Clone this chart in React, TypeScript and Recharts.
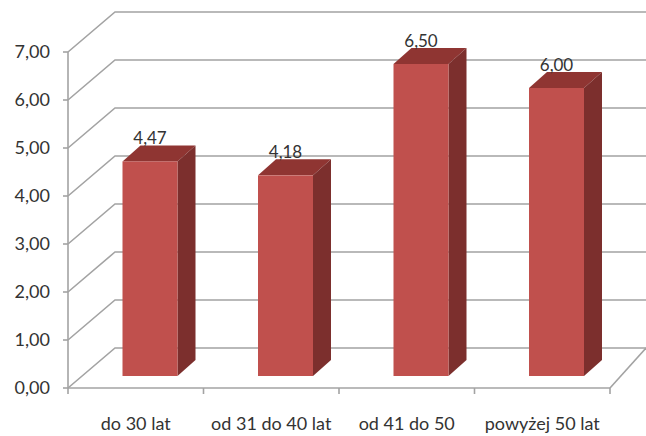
import { Bar, BarChart, CartesianGrid, XAxis, YAxis } from 'recharts'

const categories = ['do 30 lat', 'od 31 do 40 lat', 'od 41 do 50', 'powyżej 50 lat']
const values = [4.47, 4.18, 6.5, 6.0]
const yTicks = [0, 1, 2, 3, 4, 5, 6, 7]

const data = categories.map((name, i) => ({ name, value: values[i] }))

const W = 646
const H = 436
const MARGIN = { top: 52, right: 36, bottom: 18, left: 0 }
const Y_AXIS_W = 68
const X_AXIS_H = 30
const FONT = 'Lato, "Open Sans", sans-serif'
const GRID = '#a3a3a3'

// oblique depth of the walls and of the bar slab
const WALL_DX = 47
const WALL_DX_RIGHT = 36
const WALL_DY = -40
const BAR_SHIFT_X = 14.5
const BAR_SHIFT_Y = -12
const BAR_DX = 18
const BAR_DY = -16

const halfBand = (W - MARGIN.left - MARGIN.right - Y_AXIS_W) / categories.length / 2

const fmt = (v: number) => v.toFixed(2).replace('.', ',')

function GridLine(props: any) {
  const { x1, y1, x2, index } = props
  const bx1 = x1 + WALL_DX
  const bx2 = x2 + WALL_DX_RIGHT + 30
  const by = y1 + WALL_DY
  return (
    <g>
      <path
        d={`M${x1},${y1} L${bx1},${by} L${bx2},${by}`}
        fill="none"
        stroke={GRID}
        strokeWidth={1.6}
      />
      {index === 0 && (
        <line
          x1={x2}
          y1={y1}
          x2={x2 + WALL_DX_RIGHT}
          y2={by}
          stroke={GRID}
          strokeWidth={1.6}
        />
      )}
    </g>
  )
}

function Bar3D(props: any) {
  const { x, y, width, height } = props
  if (!height) return null
  const fx = x + BAR_SHIFT_X
  const fy = y + BAR_SHIFT_Y
  const r = fx + width
  const b = fy + height
  return (
    <g>
      <polygon
        points={`${fx},${fy} ${fx + BAR_DX},${fy + BAR_DY} ${r + BAR_DX},${fy + BAR_DY} ${r},${fy}`}
        fill="#8f3532"
      />
      <polygon
        points={`${r},${fy} ${r + BAR_DX},${fy + BAR_DY} ${r + BAR_DX},${b + BAR_DY} ${r},${b}`}
        fill="#7c2f2d"
      />
      <rect x={fx} y={fy} width={width} height={height} fill="#c0504d" />
    </g>
  )
}

function ValueLabel(props: any) {
  const { x, y, width, value } = props
  return (
    <text
      x={x + BAR_SHIFT_X + width / 2}
      y={y + BAR_SHIFT_Y - 17}
      textAnchor="middle"
      fill="#333"
      fontSize={17}
      fontFamily={FONT}
    >
      {fmt(value)}
    </text>
  )
}

function CategoryTick(props: any) {
  const { x, y, payload, index } = props
  const last = index === categories.length - 1
  return (
    <g>
      <line x1={x - halfBand} y1={y} x2={x - halfBand} y2={y + 6} stroke={GRID} strokeWidth={1.6} />
      {last && (
        <line x1={x + halfBand} y1={y} x2={x + halfBand} y2={y + 6} stroke={GRID} strokeWidth={1.6} />
      )}
      <text x={x} y={y + 42} textAnchor="middle" fill="#333" fontSize={18} fontFamily={FONT}>
        {payload.value}
      </text>
    </g>
  )
}

export default function App() {
  return (
    <div style={{ position: 'absolute', left: 0, top: 0, width: W, height: H, background: '#fff' }}>
      <BarChart width={W} height={H} data={data} margin={MARGIN}>
        <CartesianGrid vertical={false} horizontal={(p: any) => <GridLine key={p.key} {...p} />} />
        <XAxis
          dataKey="name"
          height={X_AXIS_H}
          axisLine={{ stroke: GRID, strokeWidth: 1.6 }}
          tickLine={false}
          tickSize={0}
          tickMargin={0}
          interval={0}
          tick={<CategoryTick />}
        />
        <YAxis
          width={Y_AXIS_W}
          domain={[0, 7]}
          ticks={yTicks}
          interval={0}
          tickFormatter={fmt}
          axisLine={{ stroke: GRID, strokeWidth: 1.6 }}
          tickLine={{ stroke: GRID, strokeWidth: 1.6 }}
          tickSize={5}
          tickMargin={13}
          tick={{ fill: '#333', fontSize: 18, fontFamily: FONT }}
        />
        <Bar
          dataKey="value"
          barSize={55}
          shape={<Bar3D />}
          label={<ValueLabel />}
          isAnimationActive={false}
        />
      </BarChart>
    </div>
  )
}
